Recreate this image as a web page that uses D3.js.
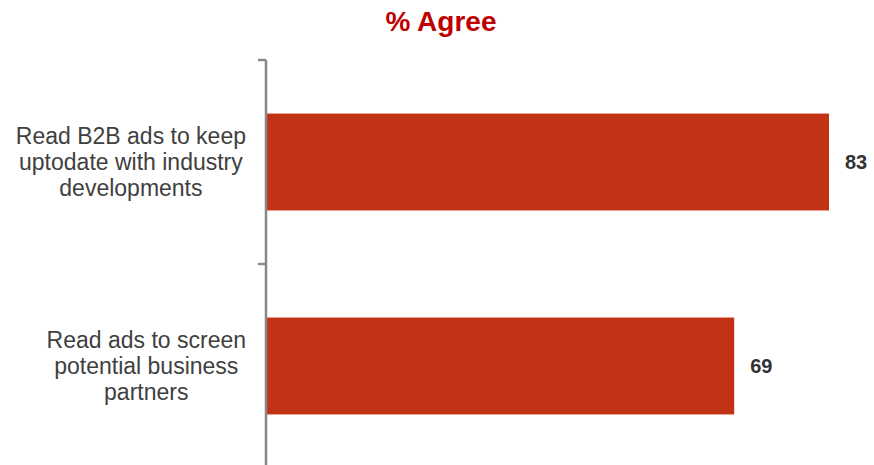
<!DOCTYPE html>
<html><head><meta charset="utf-8">
<script src="https://cdn.jsdelivr.net/npm/d3@7"></script>
<style>body{margin:0;background:#fff}svg{display:block}</style>
</head><body>
<svg id="c" width="874" height="465"></svg>
<script>
const categories = [
  ["Read B2B ads to keep", "uptodate with industry", "developments"],
  ["Read ads to screen", "potential business", "partners"]
];
const values = [83, 69];
const titleText = "% Agree";

const svg = d3.select("#c");
const W = 874, H = 465;
const x0 = 266, plotTop = 60, plotBottom = 468;

const x = d3.scaleLinear().domain([0, 83]).range([x0 + 1, 829]);
const y = d3.scaleBand().domain(d3.range(categories.length)).range([plotTop, plotBottom]).paddingInner(0.525).paddingOuter(0.2625);

svg.append("text").attr("x", 441).attr("y", 31).attr("text-anchor", "middle")
  .attr("font-family", "Liberation Sans, Arial, sans-serif").attr("font-weight", "bold")
  .attr("font-size", 28).attr("fill", "#C00000").text(titleText);

svg.selectAll("rect.bar").data(values).enter().append("rect").attr("class", "bar")
  .attr("x", x(0)).attr("y", (d, i) => y(i)).attr("width", d => x(d) - x(0))
  .attr("height", y.bandwidth()).attr("fill", "#C23214");

svg.selectAll("text.val").data(values).enter().append("text").attr("class", "val")
  .attr("x", d => x(d) + 16).attr("y", (d, i) => y(i) + y.bandwidth() / 2 + 7)
  .attr("font-family", "Liberation Sans, Arial, sans-serif").attr("font-weight", "bold")
  .attr("font-size", 20).attr("fill", "#333333").text(d => d);

// axis
const band = d3.scaleOrdinal().domain([0, 1, 2]).range([plotTop, (plotTop + plotBottom) / 2, plotBottom]);
const g = svg.append("g");
g.append("line").attr("x1", x0).attr("x2", x0).attr("y1", plotTop).attr("y2", H)
  .attr("stroke", "#888888").attr("stroke-width", 2.5);
[0, 1, 2].forEach(k => {
  g.append("line").attr("x1", x0 - 8).attr("x2", x0).attr("y1", band(k)).attr("y2", band(k))
    .attr("stroke", "#888888").attr("stroke-width", 2.5);
});

// category labels
categories.forEach((lines, i) => {
  const cy = y(i) + y.bandwidth() / 2;
  const t = svg.append("text").attr("font-family", "Liberation Sans, Arial, sans-serif")
    .attr("font-size", 23).attr("fill", "#404040").attr("text-anchor", "middle");
  const lh = 26;
  const tspans = lines.map((l, j) => t.append("tspan").attr("y", cy + (j - 1) * lh + 8).text(l));
  let maxW = 0;
  tspans.forEach(ts => { maxW = Math.max(maxW, ts.node().getComputedTextLength()); });
  const cx = 246 - maxW / 2;
  tspans.forEach(ts => ts.attr("x", cx));
});
</script>
</body></html>
